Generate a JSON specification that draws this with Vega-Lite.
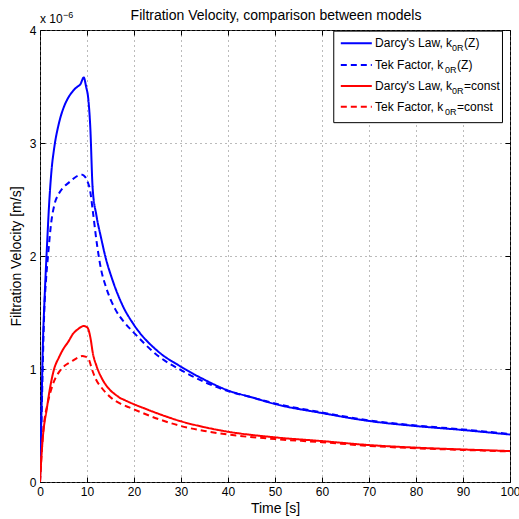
{
  "$schema": "https://vega.github.io/schema/vega-lite/v6.json",
  "width": 470,
  "height": 452,
  "autosize": "none",
  "padding": {"left": 40, "top": 30, "right": 9, "bottom": 37},
  "background": "white",
  "datasets": {
    "curves": [
      {"model": "Darcy's Law", "k": "Z", "t": 0, "v": 0},
      {"model": "Darcy's Law", "k": "Z", "t": 0.3, "v": 0.6},
      {"model": "Darcy's Law", "k": "Z", "t": 0.6, "v": 1.2},
      {"model": "Darcy's Law", "k": "Z", "t": 1, "v": 1.65},
      {"model": "Darcy's Law", "k": "Z", "t": 1.5, "v": 2.1},
      {"model": "Darcy's Law", "k": "Z", "t": 2, "v": 2.5},
      {"model": "Darcy's Law", "k": "Z", "t": 2.5, "v": 2.78},
      {"model": "Darcy's Law", "k": "Z", "t": 3, "v": 2.95},
      {"model": "Darcy's Law", "k": "Z", "t": 4, "v": 3.17},
      {"model": "Darcy's Law", "k": "Z", "t": 5, "v": 3.31},
      {"model": "Darcy's Law", "k": "Z", "t": 6, "v": 3.4},
      {"model": "Darcy's Law", "k": "Z", "t": 7, "v": 3.46},
      {"model": "Darcy's Law", "k": "Z", "t": 8, "v": 3.5},
      {"model": "Darcy's Law", "k": "Z", "t": 8.6, "v": 3.52},
      {"model": "Darcy's Law", "k": "Z", "t": 9.3, "v": 3.58},
      {"model": "Darcy's Law", "k": "Z", "t": 9.8, "v": 3.5},
      {"model": "Darcy's Law", "k": "Z", "t": 10.3, "v": 3.38},
      {"model": "Darcy's Law", "k": "Z", "t": 10.7, "v": 3.14},
      {"model": "Darcy's Law", "k": "Z", "t": 11.2, "v": 2.6},
      {"model": "Darcy's Law", "k": "Z", "t": 12, "v": 2.36},
      {"model": "Darcy's Law", "k": "Z", "t": 13, "v": 2.16},
      {"model": "Darcy's Law", "k": "Z", "t": 14, "v": 1.98},
      {"model": "Darcy's Law", "k": "Z", "t": 15.4, "v": 1.79},
      {"model": "Darcy's Law", "k": "Z", "t": 17.6, "v": 1.56},
      {"model": "Darcy's Law", "k": "Z", "t": 20, "v": 1.39},
      {"model": "Darcy's Law", "k": "Z", "t": 25, "v": 1.16},
      {"model": "Darcy's Law", "k": "Z", "t": 30, "v": 1.02},
      {"model": "Darcy's Law", "k": "Z", "t": 35, "v": 0.905},
      {"model": "Darcy's Law", "k": "Z", "t": 40, "v": 0.81},
      {"model": "Darcy's Law", "k": "Z", "t": 45, "v": 0.75},
      {"model": "Darcy's Law", "k": "Z", "t": 50, "v": 0.69},
      {"model": "Darcy's Law", "k": "Z", "t": 60, "v": 0.61},
      {"model": "Darcy's Law", "k": "Z", "t": 70, "v": 0.54},
      {"model": "Darcy's Law", "k": "Z", "t": 80, "v": 0.495},
      {"model": "Darcy's Law", "k": "Z", "t": 90, "v": 0.46},
      {"model": "Darcy's Law", "k": "Z", "t": 100, "v": 0.42},

      {"model": "Tek Factor", "k": "Z", "t": 0, "v": 0},
      {"model": "Tek Factor", "k": "Z", "t": 0.3, "v": 0.5},
      {"model": "Tek Factor", "k": "Z", "t": 0.6, "v": 1.05},
      {"model": "Tek Factor", "k": "Z", "t": 0.9, "v": 1.5},
      {"model": "Tek Factor", "k": "Z", "t": 1.3, "v": 1.8},
      {"model": "Tek Factor", "k": "Z", "t": 1.7, "v": 2.0},
      {"model": "Tek Factor", "k": "Z", "t": 2.4, "v": 2.3},
      {"model": "Tek Factor", "k": "Z", "t": 3.1, "v": 2.46},
      {"model": "Tek Factor", "k": "Z", "t": 4, "v": 2.55},
      {"model": "Tek Factor", "k": "Z", "t": 5, "v": 2.61},
      {"model": "Tek Factor", "k": "Z", "t": 6, "v": 2.645},
      {"model": "Tek Factor", "k": "Z", "t": 7, "v": 2.68},
      {"model": "Tek Factor", "k": "Z", "t": 8, "v": 2.71},
      {"model": "Tek Factor", "k": "Z", "t": 9, "v": 2.72},
      {"model": "Tek Factor", "k": "Z", "t": 9.6, "v": 2.7},
      {"model": "Tek Factor", "k": "Z", "t": 10.1, "v": 2.66},
      {"model": "Tek Factor", "k": "Z", "t": 10.7, "v": 2.57},
      {"model": "Tek Factor", "k": "Z", "t": 11.2, "v": 2.41},
      {"model": "Tek Factor", "k": "Z", "t": 12.2, "v": 2.08},
      {"model": "Tek Factor", "k": "Z", "t": 13, "v": 1.88},
      {"model": "Tek Factor", "k": "Z", "t": 14, "v": 1.73},
      {"model": "Tek Factor", "k": "Z", "t": 16, "v": 1.53},
      {"model": "Tek Factor", "k": "Z", "t": 18, "v": 1.41},
      {"model": "Tek Factor", "k": "Z", "t": 20, "v": 1.32},
      {"model": "Tek Factor", "k": "Z", "t": 25, "v": 1.12},
      {"model": "Tek Factor", "k": "Z", "t": 30, "v": 0.99},
      {"model": "Tek Factor", "k": "Z", "t": 35, "v": 0.885},
      {"model": "Tek Factor", "k": "Z", "t": 40, "v": 0.805},
      {"model": "Tek Factor", "k": "Z", "t": 45, "v": 0.75},
      {"model": "Tek Factor", "k": "Z", "t": 50, "v": 0.695},
      {"model": "Tek Factor", "k": "Z", "t": 60, "v": 0.615},
      {"model": "Tek Factor", "k": "Z", "t": 70, "v": 0.545},
      {"model": "Tek Factor", "k": "Z", "t": 80, "v": 0.5},
      {"model": "Tek Factor", "k": "Z", "t": 90, "v": 0.465},
      {"model": "Tek Factor", "k": "Z", "t": 100, "v": 0.425},

      {"model": "Darcy's Law", "k": "const", "t": 0, "v": 0},
      {"model": "Darcy's Law", "k": "const", "t": 0.3, "v": 0.22},
      {"model": "Darcy's Law", "k": "const", "t": 0.55, "v": 0.37},
      {"model": "Darcy's Law", "k": "const", "t": 1, "v": 0.54},
      {"model": "Darcy's Law", "k": "const", "t": 1.3, "v": 0.61},
      {"model": "Darcy's Law", "k": "const", "t": 2, "v": 0.8},
      {"model": "Darcy's Law", "k": "const", "t": 3, "v": 1.0},
      {"model": "Darcy's Law", "k": "const", "t": 4, "v": 1.1},
      {"model": "Darcy's Law", "k": "const", "t": 5, "v": 1.18},
      {"model": "Darcy's Law", "k": "const", "t": 6, "v": 1.24},
      {"model": "Darcy's Law", "k": "const", "t": 7, "v": 1.31},
      {"model": "Darcy's Law", "k": "const", "t": 8, "v": 1.35},
      {"model": "Darcy's Law", "k": "const", "t": 9.3, "v": 1.38},
      {"model": "Darcy's Law", "k": "const", "t": 10, "v": 1.37},
      {"model": "Darcy's Law", "k": "const", "t": 10.3, "v": 1.35},
      {"model": "Darcy's Law", "k": "const", "t": 10.8, "v": 1.26},
      {"model": "Darcy's Law", "k": "const", "t": 11.2, "v": 1.15},
      {"model": "Darcy's Law", "k": "const", "t": 12, "v": 1.03},
      {"model": "Darcy's Law", "k": "const", "t": 13, "v": 0.93},
      {"model": "Darcy's Law", "k": "const", "t": 14, "v": 0.86},
      {"model": "Darcy's Law", "k": "const", "t": 15, "v": 0.81},
      {"model": "Darcy's Law", "k": "const", "t": 16, "v": 0.775},
      {"model": "Darcy's Law", "k": "const", "t": 17, "v": 0.745},
      {"model": "Darcy's Law", "k": "const", "t": 18, "v": 0.725},
      {"model": "Darcy's Law", "k": "const", "t": 20, "v": 0.688},
      {"model": "Darcy's Law", "k": "const", "t": 22, "v": 0.655},
      {"model": "Darcy's Law", "k": "const", "t": 25, "v": 0.607},
      {"model": "Darcy's Law", "k": "const", "t": 30, "v": 0.537},
      {"model": "Darcy's Law", "k": "const", "t": 35, "v": 0.485},
      {"model": "Darcy's Law", "k": "const", "t": 40, "v": 0.445},
      {"model": "Darcy's Law", "k": "const", "t": 50, "v": 0.395},
      {"model": "Darcy's Law", "k": "const", "t": 60, "v": 0.362},
      {"model": "Darcy's Law", "k": "const", "t": 70, "v": 0.327},
      {"model": "Darcy's Law", "k": "const", "t": 80, "v": 0.304},
      {"model": "Darcy's Law", "k": "const", "t": 90, "v": 0.288},
      {"model": "Darcy's Law", "k": "const", "t": 100, "v": 0.274},

      {"model": "Tek Factor", "k": "const", "t": 0, "v": 0},
      {"model": "Tek Factor", "k": "const", "t": 0.5, "v": 0.35},
      {"model": "Tek Factor", "k": "const", "t": 0.9, "v": 0.53},
      {"model": "Tek Factor", "k": "const", "t": 1.6, "v": 0.69},
      {"model": "Tek Factor", "k": "const", "t": 2.7, "v": 0.86},
      {"model": "Tek Factor", "k": "const", "t": 4, "v": 0.97},
      {"model": "Tek Factor", "k": "const", "t": 5, "v": 1.02},
      {"model": "Tek Factor", "k": "const", "t": 6, "v": 1.05},
      {"model": "Tek Factor", "k": "const", "t": 7, "v": 1.075},
      {"model": "Tek Factor", "k": "const", "t": 8, "v": 1.1},
      {"model": "Tek Factor", "k": "const", "t": 9, "v": 1.115},
      {"model": "Tek Factor", "k": "const", "t": 9.6, "v": 1.11},
      {"model": "Tek Factor", "k": "const", "t": 10.3, "v": 1.09},
      {"model": "Tek Factor", "k": "const", "t": 11.2, "v": 0.98},
      {"model": "Tek Factor", "k": "const", "t": 12, "v": 0.9},
      {"model": "Tek Factor", "k": "const", "t": 13, "v": 0.84},
      {"model": "Tek Factor", "k": "const", "t": 15, "v": 0.75},
      {"model": "Tek Factor", "k": "const", "t": 17, "v": 0.695},
      {"model": "Tek Factor", "k": "const", "t": 19, "v": 0.66},
      {"model": "Tek Factor", "k": "const", "t": 25, "v": 0.56},
      {"model": "Tek Factor", "k": "const", "t": 30, "v": 0.495},
      {"model": "Tek Factor", "k": "const", "t": 35, "v": 0.452},
      {"model": "Tek Factor", "k": "const", "t": 40, "v": 0.42},
      {"model": "Tek Factor", "k": "const", "t": 50, "v": 0.38},
      {"model": "Tek Factor", "k": "const", "t": 60, "v": 0.352},
      {"model": "Tek Factor", "k": "const", "t": 70, "v": 0.32},
      {"model": "Tek Factor", "k": "const", "t": 80, "v": 0.298},
      {"model": "Tek Factor", "k": "const", "t": 90, "v": 0.284},
      {"model": "Tek Factor", "k": "const", "t": 100, "v": 0.27}
    ],
    "legend": [
      {"model": "Darcy's Law", "k": "Z", "name": "Darcy's Law, k", "sub": "0R", "tail": "(Z)"},
      {"model": "Tek Factor", "k": "Z", "name": "Tek Factor, k", "sub": "0R", "tail": "(Z)"},
      {"model": "Darcy's Law", "k": "const", "name": "Darcy's Law, k", "sub": "0R", "tail": "=const"},
      {"model": "Tek Factor", "k": "const", "name": "Tek Factor, k", "sub": "0R", "tail": "=const"}
    ]
  },
  "config": {
    "view": {"stroke": "black", "strokeWidth": 1},
    "axis": {
      "domain": false, "grid": true, "gridColor": "#777777", "gridDash": [1, 4], "gridWidth": 1,
      "tickColor": "black", "tickSize": -5, "tickWidth": 1,
      "labelFont": "Liberation Sans", "labelFontSize": 12, "labelColor": "black", "labelPadding": 9,
      "titleFont": "Liberation Sans", "titleFontSize": 14, "titleFontWeight": "normal", "titleColor": "black"
    },
    "text": {"font": "Liberation Sans", "fontSize": 12, "color": "black"}
  },
  "resolve": {"axis": {"x": "independent", "y": "independent"}},
  "layer": [
    {
      "layer": [
        {
          "data": {"name": "curves"},
          "mark": {"type": "line", "strokeWidth": 2, "clip": true, "interpolate": "monotone"},
          "encoding": {
            "x": {"field": "t", "type": "quantitative", "scale": {"domain": [0, 100], "nice": false, "zero": false},
                  "axis": {"title": "Time [s]", "values": [0, 10, 20, 30, 40, 50, 60, 70, 80, 90, 100], "labelFlush": false, "titlePadding": 4}},
            "y": {"field": "v", "type": "quantitative", "scale": {"domain": [0, 4], "nice": false},
                  "axis": {"title": "Filtration Velocity [m/s]", "values": [0, 1, 2, 3, 4], "format": "d", "labelFlush": false, "titlePadding": 6}},
            "color": {"field": "k", "type": "nominal", "scale": {"domain": ["Z", "const"], "range": ["#0000ff", "#ff0000"]}, "legend": null},
            "strokeDash": {"field": "model", "type": "nominal", "scale": {"domain": ["Darcy's Law", "Tek Factor"], "range": [[1, 0], [6, 4]]}, "legend": null}
          }
        },
        {
          "data": {"values": [{}]},
          "mark": {"type": "rect", "fill": "white", "stroke": "black", "strokeWidth": 1},
          "encoding": {
            "x": {"datum": 62.5, "type": "quantitative"},
            "x2": {"datum": 98.4},
            "y": {"datum": 3.99, "type": "quantitative"},
            "y2": {"datum": 3.18}
          }
        },
        {
          "data": {"name": "legend"},
          "transform": [{"filter": {"and": [{"field": "model", "equal": "Darcy's Law"}, {"field": "k", "equal": "Z"}]}}],
          "encoding": {"y": {"datum": 3.882, "type": "quantitative"}},
          "layer": [
            {"mark": {"type": "rule", "strokeWidth": 2}, "encoding": {"x": {"datum": 64.0, "type": "quantitative"}, "x2": {"datum": 70.6},
              "color": {"field": "k", "type": "nominal", "legend": null}, "strokeDash": {"field": "model", "type": "nominal", "legend": null}}},
            {"mark": {"type": "text", "align": "left", "baseline": "middle"}, "encoding": {"x": {"datum": 71.3, "type": "quantitative"}, "text": {"field": "name"}}},
            {"mark": {"type": "text", "align": "left", "baseline": "middle", "fontSize": 9, "dx": 77, "dy": 5}, "encoding": {"x": {"datum": 71.3, "type": "quantitative"}, "text": {"field": "sub"}}},
            {"mark": {"type": "text", "align": "left", "baseline": "middle", "dx": 89}, "encoding": {"x": {"datum": 71.3, "type": "quantitative"}, "text": {"field": "tail"}}}
          ]
        },
        {
          "data": {"name": "legend"},
          "transform": [{"filter": {"and": [{"field": "model", "equal": "Tek Factor"}, {"field": "k", "equal": "Z"}]}}],
          "encoding": {"y": {"datum": 3.690, "type": "quantitative"}},
          "layer": [
            {"mark": {"type": "rule", "strokeWidth": 2}, "encoding": {"x": {"datum": 64.0, "type": "quantitative"}, "x2": {"datum": 70.6},
              "color": {"field": "k", "type": "nominal", "legend": null}, "strokeDash": {"field": "model", "type": "nominal", "legend": null}}},
            {"mark": {"type": "text", "align": "left", "baseline": "middle"}, "encoding": {"x": {"datum": 71.3, "type": "quantitative"}, "text": {"field": "name"}}},
            {"mark": {"type": "text", "align": "left", "baseline": "middle", "fontSize": 9, "dx": 70, "dy": 5}, "encoding": {"x": {"datum": 71.3, "type": "quantitative"}, "text": {"field": "sub"}}},
            {"mark": {"type": "text", "align": "left", "baseline": "middle", "dx": 82}, "encoding": {"x": {"datum": 71.3, "type": "quantitative"}, "text": {"field": "tail"}}}
          ]
        },
        {
          "data": {"name": "legend"},
          "transform": [{"filter": {"and": [{"field": "model", "equal": "Darcy's Law"}, {"field": "k", "equal": "const"}]}}],
          "encoding": {"y": {"datum": 3.504, "type": "quantitative"}},
          "layer": [
            {"mark": {"type": "rule", "strokeWidth": 2}, "encoding": {"x": {"datum": 64.0, "type": "quantitative"}, "x2": {"datum": 70.6},
              "color": {"field": "k", "type": "nominal", "legend": null}, "strokeDash": {"field": "model", "type": "nominal", "legend": null}}},
            {"mark": {"type": "text", "align": "left", "baseline": "middle"}, "encoding": {"x": {"datum": 71.3, "type": "quantitative"}, "text": {"field": "name"}}},
            {"mark": {"type": "text", "align": "left", "baseline": "middle", "fontSize": 9, "dx": 77, "dy": 5}, "encoding": {"x": {"datum": 71.3, "type": "quantitative"}, "text": {"field": "sub"}}},
            {"mark": {"type": "text", "align": "left", "baseline": "middle", "dx": 89}, "encoding": {"x": {"datum": 71.3, "type": "quantitative"}, "text": {"field": "tail"}}}
          ]
        },
        {
          "data": {"name": "legend"},
          "transform": [{"filter": {"and": [{"field": "model", "equal": "Tek Factor"}, {"field": "k", "equal": "const"}]}}],
          "encoding": {"y": {"datum": 3.321, "type": "quantitative"}},
          "layer": [
            {"mark": {"type": "rule", "strokeWidth": 2}, "encoding": {"x": {"datum": 64.0, "type": "quantitative"}, "x2": {"datum": 70.6},
              "color": {"field": "k", "type": "nominal", "legend": null}, "strokeDash": {"field": "model", "type": "nominal", "legend": null}}},
            {"mark": {"type": "text", "align": "left", "baseline": "middle"}, "encoding": {"x": {"datum": 71.3, "type": "quantitative"}, "text": {"field": "name"}}},
            {"mark": {"type": "text", "align": "left", "baseline": "middle", "fontSize": 9, "dx": 70, "dy": 5}, "encoding": {"x": {"datum": 71.3, "type": "quantitative"}, "text": {"field": "sub"}}},
            {"mark": {"type": "text", "align": "left", "baseline": "middle", "dx": 82}, "encoding": {"x": {"datum": 71.3, "type": "quantitative"}, "text": {"field": "tail"}}}
          ]
        },
        {
          "data": {"values": [{}]},
          "layer": [
            {"mark": {"type": "text", "text": "x 10", "align": "left", "baseline": "alphabetic", "dy": -7, "fontSize": 12},
             "encoding": {"x": {"datum": 0, "type": "quantitative"}, "y": {"datum": 4, "type": "quantitative"}}},
            {"mark": {"type": "text", "text": "−6", "align": "left", "baseline": "alphabetic", "dx": 23, "dy": -12, "fontSize": 9},
             "encoding": {"x": {"datum": 0, "type": "quantitative"}, "y": {"datum": 4, "type": "quantitative"}}},
            {"mark": {"type": "text", "text": "Filtration Velocity, comparison between models", "align": "center", "baseline": "alphabetic", "dx": 1, "dy": -10.5, "fontSize": 14},
             "encoding": {"x": {"datum": 50, "type": "quantitative"}, "y": {"datum": 4, "type": "quantitative"}}}
          ]
        }
      ]
    },
    {
      "data": {"values": [{}]},
      "mark": {"type": "point", "opacity": 0},
      "encoding": {
        "x": {"datum": 0, "type": "quantitative", "axis": {"orient": "top", "labels": false, "grid": false, "title": null, "minExtent": 0, "maxExtent": 0, "labelPadding": 0, "values": [0, 10, 20, 30, 40, 50, 60, 70, 80, 90, 100]}},
        "y": {"datum": 0, "type": "quantitative", "axis": {"orient": "right", "labels": false, "grid": false, "title": null, "minExtent": 0, "maxExtent": 0, "labelPadding": 0, "values": [0, 1, 2, 3, 4]}}
      }
    }
  ]
}
